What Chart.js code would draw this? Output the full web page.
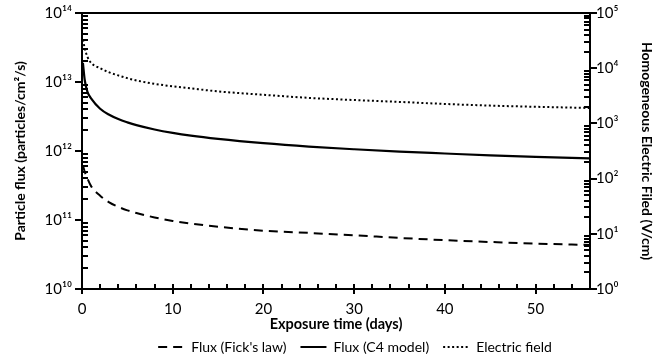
<!DOCTYPE html>
<html>
<head>
<meta charset="utf-8">
<script src="https://cdn.jsdelivr.net/npm/chart.js@4.4.1/dist/chart.umd.min.js"></script>
<style>
  html, body { margin: 0; padding: 0; background: #fff; }
</style>
</head>
<body>
<canvas id="fluxChart" width="662" height="359"></canvas>
<script>
// Values
const days = [0.1, 0.3, 0.6, 1, 2, 3, 4, 5, 6, 8, 10, 12, 15, 20, 25, 30, 35, 40, 45, 50, 56];
const fluxFick = [6.2e11, 5.0e11, 4.0e11, 3.1e11, 2.25e11, 1.8e11, 1.55e11, 1.38e11, 1.26e11, 1.09e11, 9.7e10,
  8.9e10, 8.0e10, 7.0e10, 6.5e10, 6.0e10, 5.5e10, 5.1e10, 4.8e10, 4.55e10, 4.35e10];
const fluxC4 = [1.9e13, 1.07e13, 7.2e12, 5.8e12, 4.1e12, 3.35e12, 2.9e12, 2.6e12, 2.37e12, 2.05e12, 1.83e12,
  1.67e12, 1.5e12, 1.3e12, 1.16e12, 1.06e12, 0.98e12, 0.92e12, 0.865e12, 0.82e12, 0.78e12];
const electricField = [3.3e4, 2.3e4, 1.6e4, 1.25e4, 1.0e4, 8.4e3, 7.4e3, 6.6e3, 6.0e3, 5.2e3, 4.7e3,
  4.3e3, 3.8e3, 3.3e3, 2.9e3, 2.65e3, 2.45e3, 2.25e3, 2.1e3, 2.0e3, 1.9e3];

const seriesLabels = ["Flux (Fick's law)", "Flux (C4 model)", "Electric field"];
const xTickLabels = [0, 10, 20, 30, 40, 50];
const xMinorStep = 2;

const FONT = "Lato, 'Noto Sans', sans-serif";
const SUP = { '0': '\u2070', '1': '\u00b9', '2': '\u00b2', '3': '\u00b3', '4': '\u2074',
  '5': '\u2075', '6': '\u2076', '7': '\u2077', '8': '\u2078', '9': '\u2079' };

const isDecade = (v) => Math.abs(Math.log10(v) - Math.round(Math.log10(v))) < 1e-6;
const powerLabel = (v) => isDecade(v)
  ? '10' + String(Math.round(Math.log10(v))).split('').map((d) => SUP[d]).join('')
  : '';

const toPoints = (vals) => days.map((d, i) => ({ x: d, y: vals[i] }));

// 1..9 x 10^n marks for a log axis
const logMarks = (scale) => {
  const out = [];
  const lo = Math.round(Math.log10(scale.min));
  const hi = Math.round(Math.log10(scale.max));
  for (let e = lo; e < hi; e++) {
    for (let k = 1; k <= 9; k++) out.push({ value: k * Math.pow(10, e), major: k === 1 });
  }
  out.push({ value: Math.pow(10, hi), major: true });
  return out;
};

const hLine = (c, x0, x1, y) => {
  c.fillRect(Math.min(x0, x1), Math.round(y) - 1, Math.abs(x1 - x0), 2);
};
const vLine = (c, x, y0, y1) => {
  c.fillRect(Math.round(x) - 1, Math.min(y0, y1), 2, Math.abs(y1 - y0));
};

// inward minor ticks, outward major ticks and the top frame line
const axisTicks = {
  id: 'axisTicks',
  afterLayout(chart) {
    // nudge the legend so it sits under the plot like the original
    const lg = chart.legend;
    if (lg) {
      lg.left += 24; lg.right += 24;
      lg.top -= 3; lg.bottom -= 3;
    }
  },
  afterDraw(chart) {
    const c = chart.ctx;
    const a = chart.chartArea;
    const sx = chart.scales.x, sy = chart.scales.y, sy2 = chart.scales.y2;
    c.save();
    c.fillStyle = '#000';
    hLine(c, a.left - 1, a.right + 1, a.top);

    logMarks(sy).forEach((t) => {
      const py = sy.getPixelForValue(t.value);
      if (t.major) hLine(c, a.left - 7, a.left, py);
      else hLine(c, a.left, a.left + 6, py);
    });
    logMarks(sy2).forEach((t) => {
      const py = sy2.getPixelForValue(t.value);
      if (t.major) hLine(c, a.right, a.right + 7, py);
      else hLine(c, a.right - 6, a.right, py);
    });
    for (let v = sx.min; v <= sx.max; v += xMinorStep) {
      const px = sx.getPixelForValue(v);
      if (xTickLabels.includes(v)) vLine(c, px, a.bottom - 5, a.bottom + 5);
      else vLine(c, px, a.bottom - 5, a.bottom);
    }
    c.restore();
  }
};

const ctx = document.getElementById('fluxChart').getContext('2d');

new Chart(ctx, {
  type: 'line',
  data: {
    datasets: [
      {
        label: seriesLabels[0],
        data: toPoints(fluxFick),
        borderColor: '#000',
        borderWidth: 2,
        borderDash: [9, 6],
        yAxisID: 'y',
      },
      {
        label: seriesLabels[1],
        data: toPoints(fluxC4),
        borderColor: '#000',
        borderWidth: 2.2,
        yAxisID: 'y',
      },
      {
        label: seriesLabels[2],
        data: toPoints(electricField),
        borderColor: '#000',
        borderWidth: 2,
        borderDash: [2, 2.5],
        yAxisID: 'y2',
      },
    ],
  },
  options: {
    responsive: false,
    animation: false,
    devicePixelRatio: 1,
    layout: { padding: { top: 13, bottom: 0 } },
    elements: {
      point: { radius: 0 },
      line: { cubicInterpolationMode: 'monotone', fill: false },
    },
    plugins: {
      tooltip: { enabled: false },
      legend: {
        position: 'bottom',
        maxHeight: 30,
        labels: {
          usePointStyle: true,
          pointStyle: 'line',
          pointStyleWidth: 26,
          color: '#000',
          padding: 14,
          font: { family: FONT, size: 14 },
          generateLabels: (chart) => {
            const items = Chart.defaults.plugins.legend.labels.generateLabels(chart);
            items.forEach((it) => {
              const ds = chart.data.datasets[it.datasetIndex];
              it.lineDash = ds.borderDash || [];
              it.lineWidth = 2;
              it.strokeStyle = '#000';
              it.pointStyle = 'line';
            });
            return items;
          },
        },
      },
    },
    scales: {
      x: {
        type: 'linear',
        position: 'bottom',
        min: 0,
        max: 56,
        grid: { display: false, drawTicks: false },
        border: { display: true, color: '#000', width: 2 },
        ticks: {
          stepSize: 10,
          autoSkip: false,
          maxRotation: 0,
          padding: 11,
          color: '#000',
          font: { family: FONT, size: 15 },
          callback: (v) => (xTickLabels.includes(v) ? String(v) : ''),
        },
        title: {
          display: true,
          text: 'Exposure time (days)',
          color: '#000',
          font: { family: FONT, size: 14.5, weight: 'bold' },
          padding: { top: 0, bottom: -4 },
        },
        afterFit: (s) => { s.height = 40; },
      },
      y: {
        type: 'logarithmic',
        position: 'left',
        min: 1e10,
        max: 1e14,
        grid: { display: false, drawTicks: false },
        border: { display: true, color: '#000', width: 2 },
        ticks: {
          autoSkip: false,
          padding: 10,
          color: '#000',
          font: { family: FONT, size: 15 },
          callback: (v) => powerLabel(v),
        },
        title: {
          display: true,
          text: 'Particle flux (particles/cm\u00b2/s)',
          color: '#000',
          font: { family: FONT, size: 14, weight: 'bold' },
          padding: { top: 12, bottom: 0 },
        },
        afterFit: (s) => { s.width = 82; s.paddingTop = 0; s.paddingBottom = 0; },
      },
      y2: {
        type: 'logarithmic',
        position: 'right',
        min: 1,
        max: 1e5,
        grid: { display: false, drawTicks: false },
        border: { display: true, color: '#000', width: 2 },
        ticks: {
          autoSkip: false,
          padding: 6,
          color: '#000',
          font: { family: FONT, size: 15 },
          callback: (v) => powerLabel(v),
        },
        title: {
          display: true,
          text: 'Homogeneous Electric Filed (V/cm)',
          color: '#000',
          font: { family: FONT, size: 14, weight: 'bold' },
          padding: { top: 7, bottom: 0 },
        },
        afterFit: (s) => { s.width = 72; s.paddingTop = 0; s.paddingBottom = 0; },
      },
    },
  },
  plugins: [axisTicks],
});
</script>
</body>
</html>
